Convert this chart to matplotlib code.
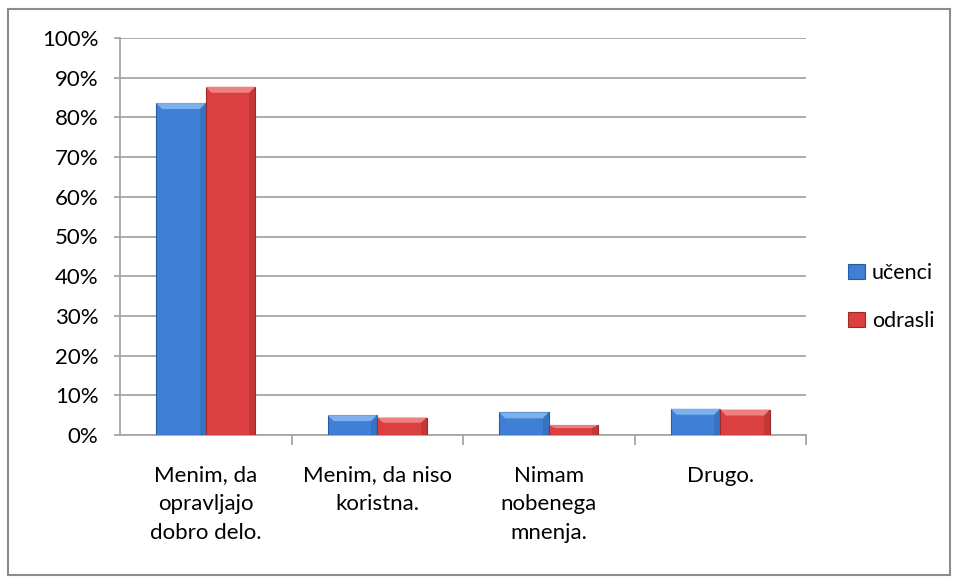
import numpy as np
import matplotlib
matplotlib.use("Agg")
import matplotlib.pyplot as plt
from matplotlib.patches import Rectangle, Polygon
from matplotlib.ticker import PercentFormatter

plt.rcParams["font.family"] = ["Lato", "DejaVu Sans"]

categories = ["Menim, da\nopravljajo\ndobro delo.", "Menim, da niso\nkoristna.",
              "Nimam\nnobenega\nmnenja.", "Drugo."]
ucenci = [83.6, 5.0, 5.7, 6.6]
odrasli = [87.7, 4.4, 2.5, 6.4]
series = [("učenci", ucenci, "#3f7fd6", "#2a5aa0", "#7fb0ee"),
          ("odrasli", odrasli, "#d9403f", "#9c2a2a", "#ee8080")]

fig = plt.figure(figsize=(9.6, 5.83), dpi=100)
fig.patches.append(Rectangle((8 / 960, 8 / 583), 942 / 960, 566 / 583, transform=fig.transFigure,
                             fill=False, edgecolor="#8c8c8c", linewidth=1.5))
ax = fig.add_axes([120 / 960, 1 - 435 / 583, 686 / 960, 397 / 583])

x = np.arange(len(categories))
w = 0.289
for i, (name, vals, col, dark, light) in enumerate(series):
    offs = (i - 0.5) * w
    bars = ax.bar(x + offs, vals, w, color=col, edgecolor=dark, linewidth=0.8, label=name, zorder=3)
    # bevel highlight on top of each bar
    for b in bars:
        bx, by, bw, bh = b.get_x(), b.get_y(), b.get_width(), b.get_height()
        bev = min(1.5, bh * 0.3)
        ins = bw * 0.12
        ax.add_patch(Polygon([(bx, bh), (bx + bw, bh), (bx + bw - ins, bh - bev), (bx + ins, bh - bev)],
                             closed=True, facecolor=light, edgecolor="none", zorder=4))
        ax.add_patch(Polygon([(bx + bw, bh), (bx + bw, 0), (bx + bw - ins, 0), (bx + bw - ins, bh - bev)],
                             closed=True, facecolor=dark, alpha=0.35, edgecolor="none", zorder=4))

ax.set_xlim(-0.5, len(categories) - 0.5)
ax.set_ylim(0, 100)
ax.set_yticks(np.arange(0, 101, 10))
ax.yaxis.set_major_formatter(PercentFormatter(decimals=0))
ax.yaxis.grid(True, color="#a6a6a6", linewidth=1.3, zorder=0)
ax.set_axisbelow(True)

ax.set_xticks(x)
ax.set_xticklabels(categories, fontsize=16, linespacing=1.55)
ax.set_xticks(np.arange(0.5, len(categories) - 0.5 + 1e-9, 1), minor=True)
ax.tick_params(axis="x", which="major", length=0, pad=22)
ax.tick_params(axis="x", which="minor", length=7, color="#a6a6a6", width=1.3)
ax.tick_params(axis="y", length=4.5, color="#a6a6a6", width=1.3, labelsize=16, pad=11)
for lbl in ax.get_xticklabels():
    lbl.set_verticalalignment("top")

for s in ["top", "right"]:
    ax.spines[s].set_visible(False)
for s in ["left", "bottom"]:
    ax.spines[s].set_color("#a6a6a6")
    ax.spines[s].set_linewidth(1.3)

fig.legend(*ax.get_legend_handles_labels(), loc="center left",
           bbox_to_anchor=(829 / 960, 1 - 297 / 583), frameon=False, fontsize=15.5,
           handlelength=0.75, handleheight=0.75, handletextpad=0.35, labelspacing=1.3)

fig.savefig("out.png", dpi=100)
